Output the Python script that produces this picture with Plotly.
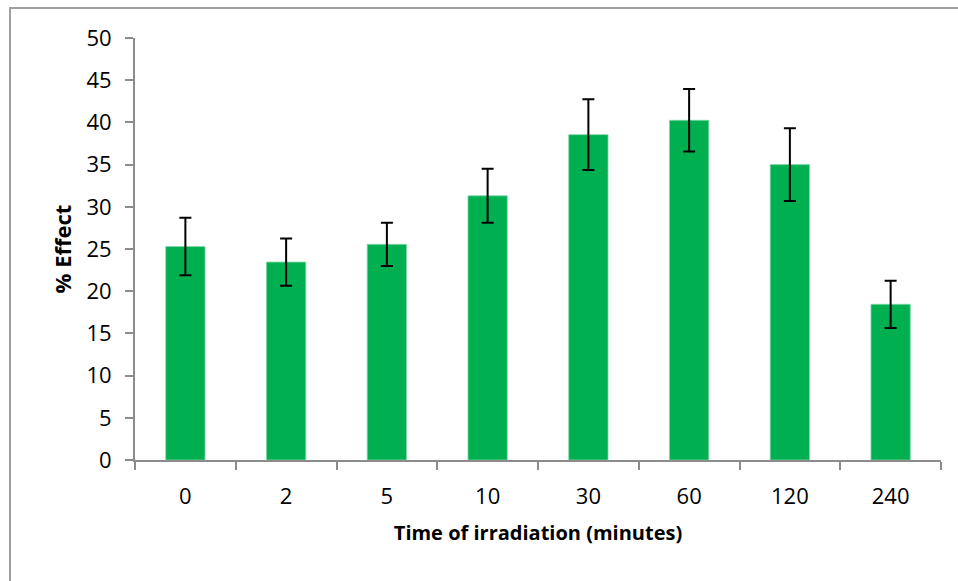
import plotly.graph_objects as go

categories = ["0", "2", "5", "10", "30", "60", "120", "240"]
effect = [25.3, 23.45, 25.55, 31.3, 38.55, 40.25, 35.0, 18.45]
errors = [3.4, 2.8, 2.55, 3.2, 4.2, 3.7, 4.3, 2.8]
y_ticks = [0, 5, 10, 15, 20, 25, 30, 35, 40, 45, 50]

W, H = 958, 581
L, R, T, B = 135, 17, 38, 121

fig = go.Figure(go.Bar(
    x=categories, y=effect,
    marker=dict(color="#00b050", line=dict(color="#7fd7a7", width=0.8)),
    width=0.39,
    error_y=dict(type="data", array=errors, visible=True,
                 color="black", thickness=2, width=6),
))

pw = W - L - R
ph = H - T - B
fig.add_shape(type="rect", xref="paper", yref="paper",
              x0=(10 - L) / pw, x1=(W + 20 - L) / pw,
              y0=(H - B - (H + 20)) / ph, y1=(H - B - 8) / ph,
              line=dict(color="#a0a0a0", width=2), fillcolor="rgba(0,0,0,0)", layer="below")

font_family = "Open Sans, Liberation Sans, sans-serif"
fig.update_layout(
    width=W, height=H,
    margin=dict(l=L, r=R, t=T, b=B, pad=0),
    plot_bgcolor="white", paper_bgcolor="white",
    showlegend=False,
    font=dict(family=font_family, color="black", size=22),
    xaxis=dict(
        type="category",
        showline=True, linecolor="#8c8c8c", linewidth=2,
        ticks="outside", tickson="boundaries", ticklen=8, tickcolor="#8c8c8c", tickwidth=2,
        tickfont=dict(size=22), ticklabelstandoff=16,
        title=dict(text="<b>Time of irradiation (minutes)</b>", font=dict(size=20), standoff=17),
        showgrid=False, zeroline=False,
    ),
    yaxis=dict(
        range=[0, 50], tickvals=y_ticks,
        showline=True, linecolor="#8c8c8c", linewidth=2,
        ticks="outside", ticklen=8, tickcolor="#8c8c8c", tickwidth=2,
        tickfont=dict(size=22), ticklabelstandoff=9,
        title=dict(text="<b>% Effect</b>", font=dict(size=22), standoff=9),
        showgrid=False, zeroline=False,
    ),
)

fig.write_html("out.html", config={"displayModeBar": False},
               post_script="document.body.style.margin='0';")
